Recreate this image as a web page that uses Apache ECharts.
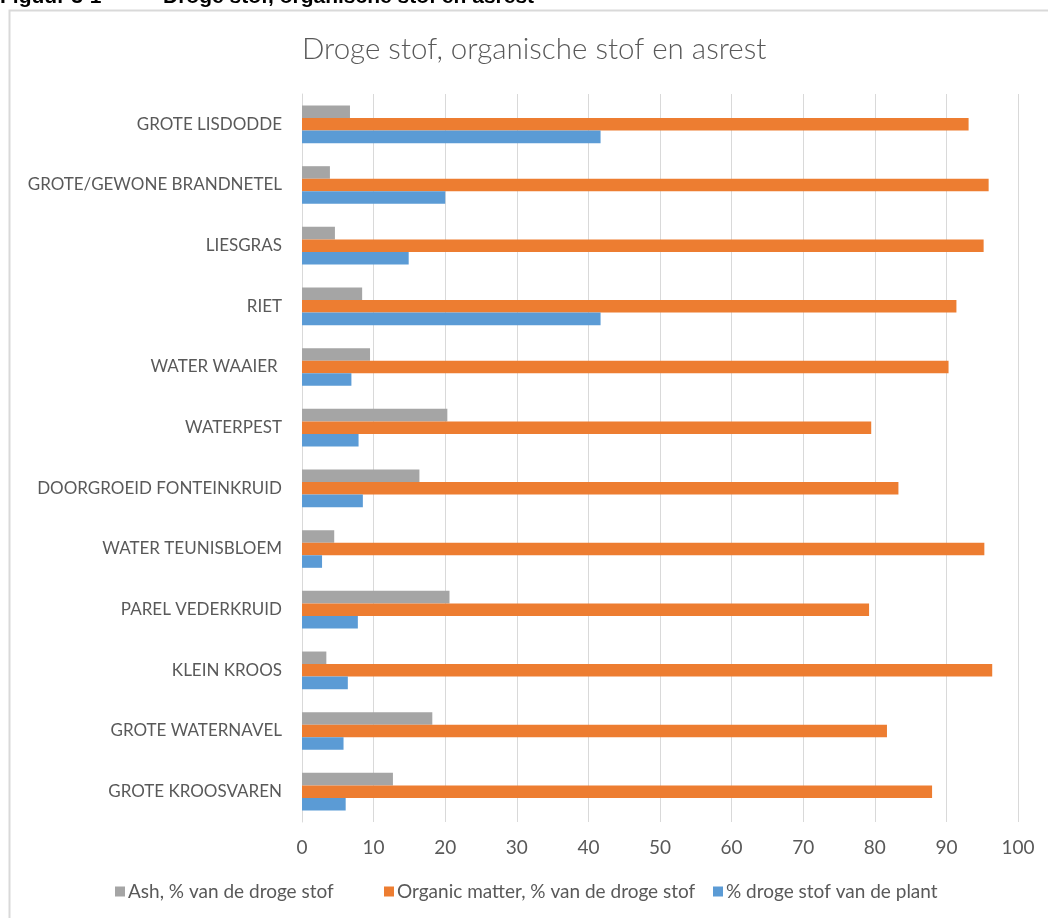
<!DOCTYPE html>
<html>
<head>
<meta charset="utf-8">
<style>
  html, body { margin: 0; padding: 0; background: #fff; }
  #chart { width: 1048px; height: 918px; }
</style>
<script src="https://cdn.jsdelivr.net/npm/echarts@6/dist/echarts.min.js"></script>
</head>
<body>
<div id="chart"></div>
<script>
// Plant species, top to bottom
const categories = [
  'GROTE LISDODDE',
  'GROTE/GEWONE BRANDNETEL',
  'LIESGRAS',
  'RIET',
  'WATER WAAIER ',
  'WATERPEST',
  'DOORGROEID FONTEINKRUID',
  'WATER TEUNISBLOEM',
  'PAREL VEDERKRUID',
  'KLEIN KROOS',
  'GROTE WATERNAVEL',
  'GROTE KROOSVAREN'
];

const seriesNames = [
  'Ash, % van de droge stof',
  'Organic matter, % van de droge stof',
  '% droge stof van de plant'
];

// Ash, % of dry matter
const ash = [6.7, 3.9, 4.6, 8.4, 9.5, 20.3, 16.4, 4.5, 20.6, 3.4, 18.2, 12.7];
// Organic matter, % of dry matter
const organic = [93.1, 95.9, 95.2, 91.4, 90.3, 79.5, 83.3, 95.3, 79.2, 96.4, 81.7, 88.0];
// Dry matter, % of the fresh plant
const dryMatter = [41.7, 20.0, 14.9, 41.7, 6.9, 7.9, 8.5, 2.8, 7.8, 6.4, 5.8, 6.1];

const xTicks = { min: 0, max: 100, interval: 10 };

const colors = ['#A5A5A5', '#ED7D31', '#5B9BD5'];
const textColor = '#595959';
const font = 'Lato, "Open Sans", sans-serif';

const chart = echarts.init(document.getElementById('chart'), null, { renderer: 'canvas' });

const legendLefts = [110, 379, 708];

chart.setOption({
  animation: false,
  backgroundColor: '#ffffff',
  color: colors,
  title: {
    text: 'Droge stof, organische stof en asrest',
    left: 297,
    top: 29,
    textStyle: { color: textColor, fontFamily: font, fontWeight: 300, fontSize: 29.5 }
  },
  graphic: [
    {
      type: 'rect',
      shape: { x: 9.5, y: 10.5, width: 1060, height: 930 },
      style: { fill: 'none', stroke: '#d9d9d9', lineWidth: 2 },
      silent: true
    },
    {
      type: 'text',
      left: 0,
      top: -13,
      style: {
        text: 'Figuur 3-1',
        font: 'bold 21px "Liberation Sans", Arial, sans-serif',
        fill: '#000'
      }
    },
    {
      type: 'text',
      left: 163,
      top: -13,
      style: {
        text: 'Droge stof, organische stof en asrest',
        font: 'bold 21px "Liberation Sans", Arial, sans-serif',
        fill: '#000'
      }
    }
  ],
  legend: seriesNames.map((name, i) => ({
    data: [name],
    left: legendLefts[i],
    top: 877,
    itemWidth: 10,
    itemHeight: 10,
    itemGap: 4,
    icon: 'rect',
    textStyle: { color: textColor, fontFamily: font, fontSize: 19, padding: [0, 0, 0, -2] }
  })),
  grid: { left: 302, right: 30, top: 94, bottom: 96, containLabel: false },
  xAxis: {
    type: 'value',
    min: xTicks.min,
    max: xTicks.max,
    interval: xTicks.interval,
    axisLine: { show: false },
    axisTick: { show: false },
    axisLabel: { color: textColor, fontFamily: font, fontSize: 19, margin: 16 },
    splitLine: { lineStyle: { color: '#d9d9d9', width: 1 } }
  },
  yAxis: {
    type: 'category',
    data: categories,
    inverse: true,
    axisLine: { show: true, lineStyle: { color: '#d9d9d9' } },
    axisTick: { show: false },
    axisLabel: { color: textColor, fontFamily: font, fontSize: 17, margin: 20 }
  },
  series: [
    { name: seriesNames[0], type: 'bar', data: ash, barGap: '0%', barCategoryGap: '38%' },
    { name: seriesNames[1], type: 'bar', data: organic, barGap: '0%', barCategoryGap: '38%' },
    { name: seriesNames[2], type: 'bar', data: dryMatter, barGap: '0%', barCategoryGap: '38%' }
  ]
});
</script>
</body>
</html>
